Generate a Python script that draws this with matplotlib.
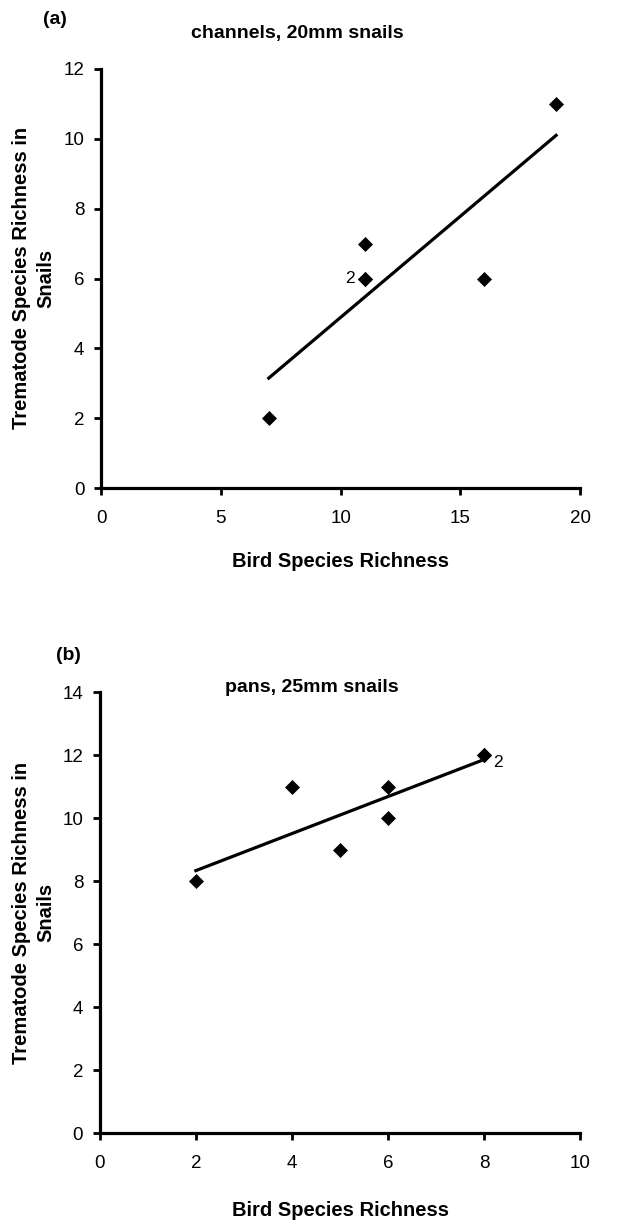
import numpy as np
import matplotlib
matplotlib.use("Agg")
import matplotlib.pyplot as plt

plt.rcParams['font.family'] = ['Liberation Sans', 'DejaVu Sans']

# (a) channels, 20mm snails
channel_birds = [7, 11, 11, 11, 16, 19]
channel_trematodes = [2, 7, 6, 6, 6, 11]

# (b) pans, 25mm snails
pan_birds = [2, 4, 5, 6, 6, 8, 8]
pan_trematodes = [8, 11, 9, 11, 10, 12, 12]

Y_LABEL = "Trematode Species Richness in\nSnails"
X_LABEL = "Bird Species Richness"


def draw_panel(ax, x, y, xmax, xstep, ymax):
    """Scatter of points plus least squares line, Excel style axes."""
    ax.plot(x, y, linestyle="none", marker="D", markersize=7,
            color="black", markeredgewidth=0.5, clip_on=False, zorder=3)
    slope, intercept = np.polyfit(x, y, 1)
    xs = np.array([min(x), max(x)])
    ax.plot(xs, slope * xs + intercept, color="black", linewidth=2.3)

    ax.set_xlim(0, xmax)
    ax.set_ylim(0, ymax)
    ax.set_xticks(np.arange(0, xmax + 1, xstep))
    ax.set_yticks(np.arange(0, ymax + 1, 2))
    for side in ["top", "right"]:
        ax.spines[side].set_visible(False)
    for side in ["left", "bottom"]:
        ax.spines[side].set_linewidth(2.3)
    ax.tick_params(direction="out", length=5, width=2, labelsize=13.5)
    ax.tick_params(axis="x", pad=11)
    ax.tick_params(axis="y", pad=7)


fig = plt.figure(figsize=(6.36, 12.25), dpi=100)

ax1 = fig.add_axes([0.159, 0.6016, 0.753, 0.3421])
draw_panel(ax1, channel_birds, channel_trematodes, 20, 5, 12)
ax1.text(10.6, 6, "2", fontsize=12.5, ha="right", va="center")

ax2 = fig.add_axes([0.157, 0.0751, 0.755, 0.36])
draw_panel(ax2, pan_birds, pan_trematodes, 10, 2, 14)
ax2.text(8.2, 11.75, "2", fontsize=12.5, ha="left", va="center")

# titles, panel letters and axis labels
fig.text(0.467, 0.973, "channels, 20mm snails", fontsize=14,
         fontweight="bold", ha="center", va="center")
fig.text(0.491, 0.4385, "pans, 25mm snails", fontsize=14,
         fontweight="bold", ha="center", va="center")
fig.text(0.086, 0.984, "(a)", fontsize=14, fontweight="bold",
         ha="center", va="center")
fig.text(0.108, 0.465, "(b)", fontsize=14, fontweight="bold",
         ha="center", va="center")

fig.text(0.535, 0.542, X_LABEL, fontsize=14.5, fontweight="bold",
         ha="center", va="center")
fig.text(0.535, 0.012, X_LABEL, fontsize=14.5, fontweight="bold",
         ha="center", va="center")
fig.text(0.053, 0.773, Y_LABEL, fontsize=14.5, fontweight="bold",
         ha="center", va="center", rotation=90, linespacing=1.3)
fig.text(0.053, 0.255, Y_LABEL, fontsize=14.5, fontweight="bold",
         ha="center", va="center", rotation=90, linespacing=1.3)

fig.savefig("out.png", dpi=100)
